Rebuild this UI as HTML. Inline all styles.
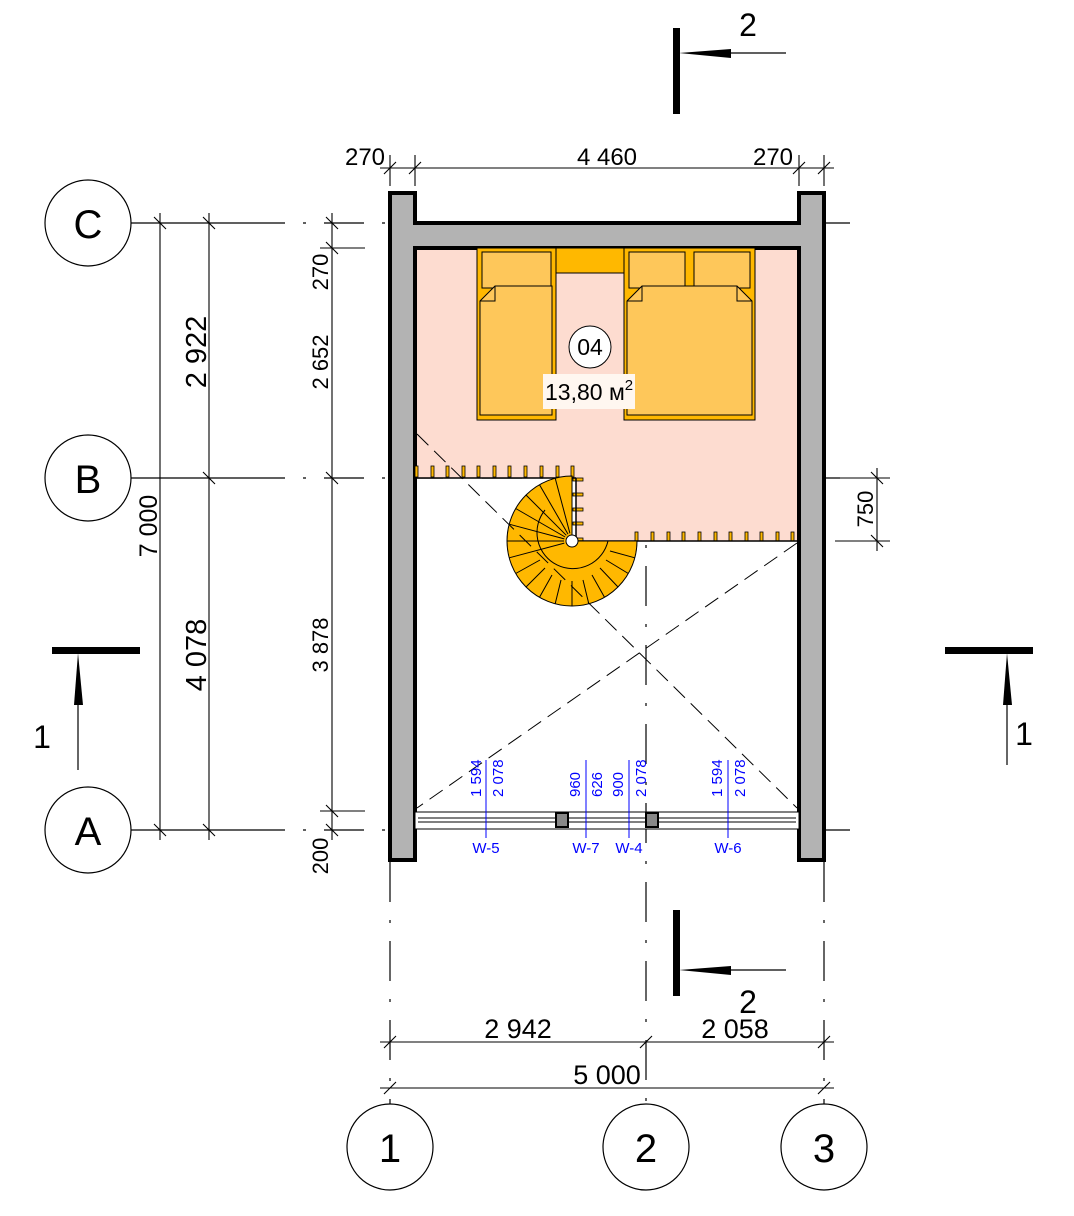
<!DOCTYPE html>
<html><head><meta charset="utf-8"><style>html,body{margin:0;padding:0;background:#fff}svg{display:block}text{font-family:"Liberation Sans",sans-serif}</style></head>
<body>
<svg width="1074" height="1216" viewBox="0 0 1074 1216" xmlns="http://www.w3.org/2000/svg">
<g stroke="#000" stroke-width="1.2" fill="none">
<line x1="131" y1="223" x2="245" y2="223"/><line x1="131" y1="478" x2="245" y2="478"/><line x1="131" y1="830" x2="245" y2="830"/>
<g stroke-dasharray="40,18,3,18">
<line x1="245" y1="223" x2="390" y2="223"/><line x1="824" y1="223" x2="850" y2="223"/>
<line x1="245" y1="478" x2="800" y2="478"/><line x1="800" y1="478" x2="850" y2="478"/>
<line x1="245" y1="830" x2="390" y2="830"/><line x1="824" y1="830" x2="850" y2="830"/>
<line x1="390" y1="862" x2="390" y2="1104"/><line x1="824" y1="862" x2="824" y2="1104"/>
<line x1="646" y1="250" x2="646" y2="1104"/>
</g>
</g>
<path d="M415,248 H799 V541 H576 V478 H415 Z" fill="#fddcd0"/>
<path d="M390,193 H415 V223 H799 V193 H824 V860 H799 V248 H415 V860 H390 Z" fill="#b3b3b3" stroke="#000" stroke-width="4"/>
<rect x="556" y="248" width="68" height="25" fill="#ffb800" stroke="#000" stroke-width="1"/>
<rect x="477" y="248" width="79" height="172" fill="#ffb800" stroke="#000" stroke-width="1"/>
<rect x="482" y="252" width="69" height="36" fill="#fec75a" stroke="#000" stroke-width="1"/>
<path d="M480,301 L495,286 H552 V415 H480 Z" fill="#fec75a" stroke="#000" stroke-width="1"/>
<path d="M480,301 H495 V286" fill="none" stroke="#000" stroke-width="1"/>
<rect x="624" y="248" width="131" height="172" fill="#ffb800" stroke="#000" stroke-width="1"/>
<rect x="629" y="252" width="56" height="36" fill="#fec75a" stroke="#000" stroke-width="1"/>
<rect x="694" y="252" width="56" height="36" fill="#fec75a" stroke="#000" stroke-width="1"/>
<path d="M627,301 L642,286 H737 L752,301 V415 H627 Z" fill="#fec75a" stroke="#000" stroke-width="1"/>
<path d="M627,301 H642 V286 M737,286 V301 H752" fill="none" stroke="#000" stroke-width="1"/>
<circle cx="590" cy="347" r="21" fill="#fff" stroke="#000" stroke-width="1"/>
<text x="590" y="355" font-size="23" text-anchor="middle">04</text>
<rect x="543" y="374" width="92" height="35" fill="#fff7f0"/>
<text x="545" y="400" font-size="23">13,80 м<tspan font-size="15" dy="-10">2</tspan></text>
<g fill="#ffb800" stroke="#000" stroke-width="0.8">
<rect x="415" y="466" width="3" height="11"/><rect x="431" y="466" width="3" height="11"/><rect x="446" y="466" width="3" height="11"/><rect x="462" y="466" width="3" height="11"/><rect x="477" y="466" width="3" height="11"/><rect x="493" y="466" width="3" height="11"/><rect x="508" y="466" width="3" height="11"/><rect x="524" y="466" width="3" height="11"/><rect x="540" y="466" width="3" height="11"/><rect x="556" y="466" width="3" height="11"/><rect x="571" y="466" width="3" height="11"/>
<rect x="573" y="478" width="10" height="3"/><rect x="573" y="493" width="10" height="3"/><rect x="573" y="508" width="10" height="3"/><rect x="573" y="522" width="10" height="3"/><rect x="573" y="538" width="10" height="3"/>
<rect x="635" y="532" width="3" height="9"/><rect x="651" y="532" width="3" height="9"/><rect x="667" y="532" width="3" height="9"/><rect x="682" y="532" width="3" height="9"/><rect x="698" y="532" width="3" height="9"/><rect x="714" y="532" width="3" height="9"/><rect x="729" y="532" width="3" height="9"/><rect x="745" y="532" width="3" height="9"/><rect x="760" y="532" width="3" height="9"/><rect x="776" y="532" width="3" height="9"/><rect x="791" y="532" width="3" height="9"/>
</g>
<line x1="415" y1="478" x2="576" y2="478" stroke="#000" stroke-width="1.5"/>
<line x1="576" y1="478" x2="576" y2="541" stroke="#000" stroke-width="1.5"/>
<line x1="576" y1="541" x2="799" y2="541" stroke="#000" stroke-width="1.5"/>
<path d="M572,541 L572,476 A65,65 0 1 0 637,541 Z" fill="#ffb800" stroke="#000" stroke-width="1"/>
<g stroke="#000" stroke-width="1">
<line x1="555.2" y1="478.2" x2="569.9" y2="533.3"/><line x1="539.5" y1="484.7" x2="568" y2="534.1"/><line x1="526" y1="495" x2="566.3" y2="535.3"/><line x1="515.7" y1="508.5" x2="565.1" y2="537"/><line x1="509.2" y1="524.2" x2="564.3" y2="538.9"/><line x1="507" y1="541" x2="564" y2="541"/><line x1="509.2" y1="557.8" x2="564.3" y2="543.1"/><line x1="515.7" y1="573.5" x2="540" y2="560"/><line x1="526" y1="587" x2="545" y2="568"/><line x1="539.5" y1="597.3" x2="552" y2="575"/><line x1="555.2" y1="603.8" x2="561" y2="580"/><line x1="572" y1="606" x2="572" y2="581"/><line x1="588.8" y1="603.8" x2="583" y2="580"/><line x1="604.5" y1="597.3" x2="592" y2="575"/><line x1="618" y1="587" x2="600" y2="568"/><line x1="628.3" y1="573.5" x2="606" y2="560"/><line x1="634.8" y1="557.8" x2="610" y2="551"/>
</g>
<path d="M545,510 A36,36 0 1 0 608,541" fill="none" stroke="#000" stroke-width="1"/>
<circle cx="572" cy="541" r="6" fill="#fff" stroke="#000" stroke-width="1"/>
<g stroke="#000" stroke-width="1" stroke-dasharray="16,8">
<line x1="417" y1="434" x2="797" y2="808"/><line x1="797" y1="543" x2="417" y2="808"/>
</g>
<g stroke="#000" stroke-width="1" fill="#fff">
<rect x="415" y="812" width="384" height="17"/>
<line x1="418" y1="818" x2="796" y2="818"/><line x1="418" y1="822" x2="796" y2="822"/>
</g>
<rect x="556" y="813" width="12" height="14" fill="#888" stroke="#000" stroke-width="2"/>
<rect x="646" y="813" width="12" height="14" fill="#888" stroke="#000" stroke-width="2"/>
<g stroke="#0000ff" stroke-width="1">
<line x1="486" y1="760" x2="486" y2="838"/><line x1="586" y1="760" x2="586" y2="838"/><line x1="629" y1="760" x2="629" y2="838"/><line x1="728" y1="760" x2="728" y2="838"/>
</g>
<g fill="#0000ff" font-size="15">
<text x="486" y="853" text-anchor="middle">W-5</text><text x="586" y="853" text-anchor="middle">W-7</text><text x="629" y="853" text-anchor="middle">W-4</text><text x="728" y="853" text-anchor="middle">W-6</text>
<text transform="translate(481,797) rotate(-90)">1 594</text><text transform="translate(503,797) rotate(-90)">2 078</text>
<text transform="translate(580,797) rotate(-90)">960</text><text transform="translate(602,797) rotate(-90)">626</text><text transform="translate(623,797) rotate(-90)">900</text><text transform="translate(646,797) rotate(-90)">2 078</text>
<text transform="translate(722,797) rotate(-90)">1 594</text><text transform="translate(745,797) rotate(-90)">2 078</text>
</g>
<g stroke="#000" stroke-width="1.1" fill="none">
<line x1="380" y1="168" x2="834" y2="168"/>
<line x1="390" y1="155" x2="390" y2="186"/><line x1="415" y1="155" x2="415" y2="186"/><line x1="799" y1="155" x2="799" y2="186"/><line x1="824" y1="155" x2="824" y2="186"/>
<path d="M384,174 L396,162 M409,174 L421,162 M793,174 L805,162 M818,174 L830,162"/>
<line x1="160" y1="213" x2="160" y2="840"/><line x1="209" y1="213" x2="209" y2="840"/><line x1="332" y1="213" x2="332" y2="840"/>
<line x1="320" y1="248" x2="365" y2="248"/><line x1="320" y1="811" x2="365" y2="811"/>
<path d="M154,217 L166,229 M203,217 L215,229 M326,217 L338,229 M326,242 L338,254 M203,472 L215,484 M326,472 L338,484 M326,805 L338,817 M154,824 L166,836 M203,824 L215,836 M326,824 L338,836"/>
<line x1="877" y1="468" x2="877" y2="551"/>
<line x1="835" y1="541" x2="890" y2="541"/><line x1="824" y1="478" x2="890" y2="478"/>
<path d="M871,472 L883,484 M871,535 L883,547"/>
<line x1="380" y1="1042" x2="834" y2="1042"/><line x1="380" y1="1088" x2="834" y2="1088"/>
<path d="M384,1048 L396,1036 M640,1048 L652,1036 M818,1048 L830,1036 M384,1094 L396,1082 M818,1094 L830,1082"/>
</g>
<g font-size="24" fill="#000">
<text x="365" y="165" text-anchor="middle">270</text>
<text x="607" y="165" text-anchor="middle">4 460</text>
<text x="773" y="165" text-anchor="middle">270</text>
<text x="518" y="1038" text-anchor="middle" font-size="27">2 942</text>
<text x="735" y="1038" text-anchor="middle" font-size="27">2 058</text>
<text x="607" y="1084" text-anchor="middle" font-size="27">5 000</text>
<text transform="translate(157,526) rotate(-90)" text-anchor="middle" font-size="25">7 000</text>
<text transform="translate(206,352) rotate(-90)" text-anchor="middle" font-size="29">2 922</text>
<text transform="translate(206,655) rotate(-90)" text-anchor="middle" font-size="29">4 078</text>
<text transform="translate(328,272) rotate(-90)" text-anchor="middle" font-size="22">270</text>
<text transform="translate(328,362) rotate(-90)" text-anchor="middle" font-size="22">2 652</text>
<text transform="translate(328,645) rotate(-90)" text-anchor="middle" font-size="22">3 878</text>
<text transform="translate(328,856) rotate(-90)" text-anchor="middle" font-size="22">200</text>
<text transform="translate(873,509) rotate(-90)" text-anchor="middle" font-size="22">750</text>
</g>
<g fill="#fff" stroke="#000" stroke-width="1.2">
<circle cx="88" cy="223" r="43"/><circle cx="88" cy="478" r="43"/><circle cx="88" cy="830" r="43"/>
<circle cx="390" cy="1147" r="43"/><circle cx="646" cy="1147" r="43"/><circle cx="824" cy="1147" r="43"/>
</g>
<g font-size="40" text-anchor="middle">
<text x="88" y="238">C</text><text x="88" y="493">B</text><text x="88" y="845">A</text>
<text x="390" y="1162">1</text><text x="646" y="1162">2</text><text x="824" y="1162">3</text>
</g>
<rect x="673" y="28" width="7" height="86" fill="#000"/>
<line x1="700" y1="53" x2="786" y2="53" stroke="#000" stroke-width="1.2"/>
<path d="M679,53 L731,49 L731,58 Z" fill="#000"/>
<text x="748" y="36" font-size="32" text-anchor="middle">2</text>
<rect x="673" y="910" width="7" height="86" fill="#000"/>
<line x1="700" y1="970" x2="786" y2="970" stroke="#000" stroke-width="1.2"/>
<path d="M679,970 L731,966 L731,975 Z" fill="#000"/>
<text x="748" y="1013" font-size="32" text-anchor="middle">2</text>
<rect x="52" y="647" width="88" height="7" fill="#000"/>
<line x1="78" y1="680" x2="78" y2="770" stroke="#000" stroke-width="1.2"/>
<path d="M78,653 L74,705 L83,705 Z" fill="#000"/>
<text x="42" y="748" font-size="32" text-anchor="middle">1</text>
<rect x="945" y="647" width="88" height="7" fill="#000"/>
<line x1="1007" y1="680" x2="1007" y2="765" stroke="#000" stroke-width="1.2"/>
<path d="M1007,653 L1003,705 L1012,705 Z" fill="#000"/>
<text x="1024" y="745" font-size="32" text-anchor="middle">1</text>
</svg>
</body></html>
